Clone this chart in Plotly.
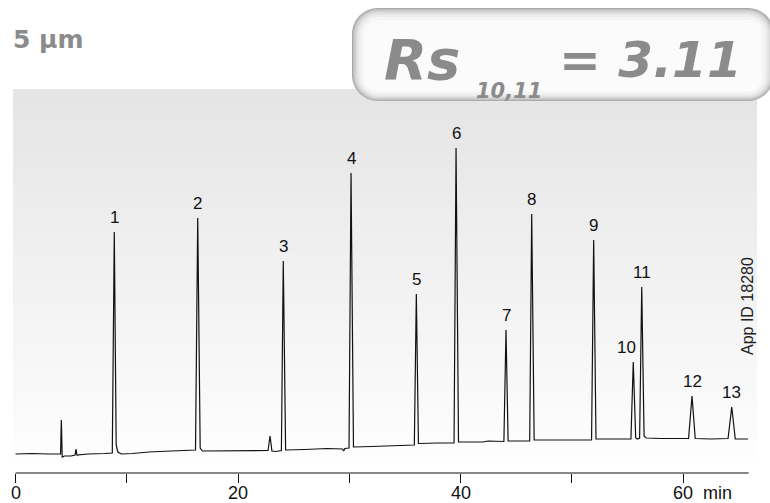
import plotly.graph_objects as go

# ---- chromatogram trace: retention time (min) vs detector signal (a.u.)
time_min = [0.0, 1.5, 3.0, 4.05, 4.12, 4.2, 4.4, 5.0, 5.35, 5.44, 5.52, 6.5, 8.0, 8.7,
            8.88, 9.05, 9.2, 9.5, 10.5, 12.0, 14.0, 16.18, 16.38, 16.6, 16.8, 18.0,
            20.0, 22.7, 22.88, 23.05, 23.4, 23.9, 24.07, 24.28, 26.0, 28.0, 29.4,
            29.5, 29.6, 29.98, 30.16, 30.38, 32.0, 34.0, 35.85, 36.03, 36.22, 38.0,
            39.42, 39.6, 39.82, 42.0, 42.5, 43.9, 44.09, 44.28, 46.22, 46.4, 46.62,
            48.0, 50.0, 51.78, 51.97, 52.18, 53.5, 55.32, 55.53, 55.75, 55.9, 56.1,
            56.29, 56.5, 56.7, 58.0, 60.5, 60.81, 61.1, 62.5, 64.05, 64.38, 64.7, 65.85]
signal = [1, 1.5, 1, 1, 35, -2, -1, -1, 0, 6, 0, 1, 1.5, 2,
          223, 10, 3, 1, 1.5, 3, 4, 5, 237, 7, 4, 4,
          4.5, 4.5, 19, 4, 3.5, 4.5, 194, 5, 5.5, 6.5, 6,
          4, 6.5, 7, 282, 8, 8.5, 9.5, 10, 161, 11.5, 12,
          12, 307, 13, 13, 14, 13.5, 125, 14, 14, 241, 15,
          15, 15, 15, 215, 16, 16, 16, 93, 17, 16, 17,
          168, 19, 17, 16.5, 16.5, 59, 16.5, 16, 16.5, 48, 16, 16]

# ---- numbered peaks (retention time, apex signal)
peak_labels = ["1", "2", "3", "4", "5", "6", "7", "8", "9", "10", "11", "12", "13"]
peak_rt = [8.88, 16.38, 24.07, 30.16, 36.03, 39.6, 44.09, 46.4, 51.97, 55.53, 56.29, 60.81, 64.38]
peak_apex = [223, 237, 194, 282, 161, 307, 125, 241, 215, 93, 168, 59, 48]

# ---- time axis
tick_vals = [0, 10, 20, 30, 40, 50, 60]
label_vals = [0, 20, 40, 60]
label_text = ["0", "20", "40", "60"]
unit_pos = 63.1
axis_end = 65.9

# figure geometry (pixels)
FW, FH = 770, 503
PL, PR, PT, PB = 13, 757, 89, 473
PW, PH = PR - PL, PB - PT

SANS = "Liberation Sans, Arial, sans-serif"
WIDE = "DejaVu Sans, sans-serif"


def pxx(x):
    return (x - PL) / PW


def pxy(y):
    return (PB - y) / PH


def rounded_path(x0, y0, x1, y1, r):
    k = 0.5523 * r
    pts = [
        ("M", [(x0 + r, y0)]),
        ("L", [(x1 - r, y0)]),
        ("C", [(x1 - r + k, y0), (x1, y0 + r - k), (x1, y0 + r)]),
        ("L", [(x1, y1 - r)]),
        ("C", [(x1, y1 - r + k), (x1 - r + k, y1), (x1 - r, y1)]),
        ("L", [(x0 + r, y1)]),
        ("C", [(x0 + r - k, y1), (x0, y1 - r + k), (x0, y1 - r)]),
        ("L", [(x0, y0 + r)]),
        ("C", [(x0, y0 + r - k), (x0 + r - k, y0), (x0 + r, y0)]),
    ]
    s = ""
    for cmd, coords in pts:
        s += cmd + " " + " ".join(f"{pxx(a):.5f},{pxy(b):.5f}" for a, b in coords) + " "
    return s + "Z"


shapes = []

# soft grey gradient behind the trace
g_top, g_bot = 89, 463
n_bands = 60
for i in range(n_bands):
    ya = g_top + (g_bot - g_top) * i / n_bands
    yb = g_top + (g_bot - g_top) * (i + 1) / n_bands
    f = i / (n_bands - 1)
    c = int(229 + (254 - 229) * f)
    shapes.append(dict(type="rect", xref="paper", yref="paper",
                       x0=0, x1=1, y0=pxy(yb + 0.5), y1=pxy(ya),
                       fillcolor=f"rgb({c},{c},{min(c + 1, 255)})",
                       line=dict(width=0), layer="below"))

# embossed badge for the resolution value
badge = [(0, "#a9a9a9"), (1, "#bdbdbd"), (2.2, "#cdcdcd"), (3.6, "#dadada"),
         (5.2, "#e5e5e5"), (7, "#eeeeee"), (9, "#f5f5f5"), (12, "#fbfbfb")]
for inset, col in badge:
    shapes.append(dict(type="path", xref="paper", yref="paper",
                       path=rounded_path(352 + inset, 8 + inset, 774 - inset, 101 - inset * 0.8,
                                         max(26 - inset, 8)),
                       fillcolor=col, line=dict(width=0), layer="above"))

# time axis baseline
shapes.append(dict(type="line", xref="x", yref="paper", x0=0, x1=axis_end, y0=0, y1=0,
                   line=dict(color="#111111", width=1.2), layer="above"))

fig = go.Figure()
fig.add_trace(go.Scatter(x=time_min, y=signal, mode="lines",
                         line=dict(color="#111111", width=1.2), hoverinfo="skip",
                         showlegend=False))

annotations = []
for lab, rt, h in zip(peak_labels, peak_rt, peak_apex):
    annotations.append(dict(x=rt, y=h, xref="x", yref="y", text=lab, showarrow=False,
                            xanchor="center", yanchor="bottom", yshift=3,
                            xshift=-7 if lab == "10" else 0,
                            font=dict(family=SANS, size=17, color="#111111")))

# time-axis labels and unit
for v, t in zip(label_vals + [unit_pos], label_text + ["min"]):
    annotations.append(dict(x=v, y=pxy(493), xref="x", yref="paper", text=t,
                            showarrow=False, xanchor="center", yanchor="middle",
                            font=dict(family=SANS, size=18, color="#111111")))

grey = "#8b8b8b"
annotations += [
    dict(x=pxx(11), y=pxy(39), xref="paper", yref="paper", text="<b>5 µm</b>",
         showarrow=False, xanchor="left", yanchor="middle",
         font=dict(family=WIDE, size=25, color=grey)),
    dict(x=pxx(382), y=pxy(59), xref="paper", yref="paper", text="<b><i>Rs</i></b>",
         showarrow=False, xanchor="left", yanchor="middle",
         font=dict(family=WIDE, size=56, color=grey)),
    dict(x=pxx(474), y=pxy(91), xref="paper", yref="paper", text="<b><i>10,11</i></b>",
         showarrow=False, xanchor="left", yanchor="middle",
         font=dict(family=WIDE, size=21, color=grey)),
    dict(x=pxx(557), y=pxy(60), xref="paper", yref="paper", text="<b><i>= 3.11</i></b>",
         showarrow=False, xanchor="left", yanchor="middle",
         font=dict(family=WIDE, size=50, color=grey)),
    dict(x=pxx(747), y=pxy(306), xref="paper", yref="paper", text="App ID 18280",
         showarrow=False, textangle=-90, xanchor="center", yanchor="middle",
         font=dict(family=SANS, size=16, color="#222222")),
]

x_lo = (PL - 15.5) / 11.125
x_hi = (PR - 15.5) / 11.125

fig.update_layout(
    width=FW, height=FH,
    margin=dict(l=PL, r=FW - PR, t=PT, b=FH - PB, pad=0, autoexpand=False),
    paper_bgcolor="white", plot_bgcolor="rgba(0,0,0,0)",
    shapes=shapes, annotations=annotations, showlegend=False,
    xaxis=dict(range=[x_lo, x_hi], tickvals=tick_vals, showticklabels=False,
               ticks="outside", ticklen=9, tickwidth=1, tickcolor="#111111",
               showgrid=False, zeroline=False, showline=False, automargin=False),
    yaxis=dict(range=[-18, 366], visible=False, showgrid=False, zeroline=False,
               automargin=False),
)

fig.write_html("out.html")
